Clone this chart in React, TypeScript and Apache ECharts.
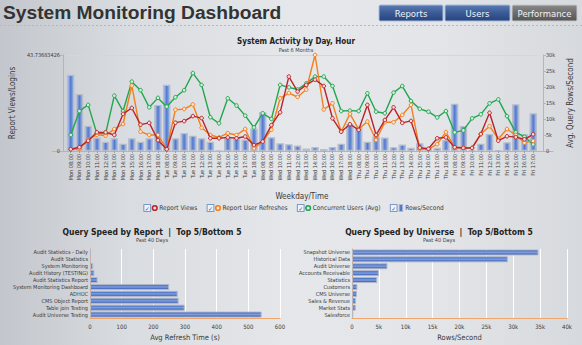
import React, { useEffect, useRef } from 'react';
import * as echarts from 'echarts';

// Hourly buckets, Monday 08:00 through Friday 17:00
const activityHours = [
  'Mon 08:00', 'Mon 09:00', 'Mon 10:00', 'Mon 11:00', 'Mon 12:00', 'Mon 13:00', 'Mon 14:00', 'Mon 15:00', 'Mon 16:00', 'Mon 17:00', 'Mon 18:00',
  'Tue 08:00', 'Tue 09:00', 'Tue 10:00', 'Tue 11:00', 'Tue 12:00', 'Tue 13:00', 'Tue 14:00', 'Tue 15:00', 'Tue 16:00', 'Tue 17:00', 'Tue 18:00',
  'Wed 08:00', 'Wed 09:00', 'Wed 10:00', 'Wed 11:00', 'Wed 12:00', 'Wed 13:00', 'Wed 14:00', 'Wed 15:00', 'Wed 16:00', 'Wed 17:00', 'Wed 18:00',
  'Thu 08:00', 'Thu 09:00', 'Thu 10:00', 'Thu 11:00', 'Thu 12:00', 'Thu 13:00', 'Thu 14:00', 'Thu 15:00', 'Thu 16:00', 'Thu 17:00', 'Thu 18:00',
  'Fri 08:00', 'Fri 09:00', 'Fri 10:00', 'Fri 11:00', 'Fri 12:00', 'Fri 13:00', 'Fri 14:00', 'Fri 15:00', 'Fri 16:00', 'Fri 17:00',
];

const reportViews = [
  0.8, 1.7, 4.7, 8.5, 8.5, 7.3, 16.9, 19.6, 12.0, 12.8, 4.9,
  0.8, 12.9, 13.6, 15.9, 15.0, 5.8, 5.8, 6.2, 5.8, 6.6, 2.7,
  4.3, 11.8, 17.6, 33.9, 27.1, 30.1, 32.5, 29.6, 14.9, 8.8, 12.2,
  9.6, 21.0, 7.3, 14.1, 19.9, 12.8, 13.7, 1.5, 1.0, 5.8, 6.2,
  1.7, 1.4, 1.4, 7.7, 17.4, 4.7, 6.7, 6.3, 5.3, 7.6,
];

const userRefreshes = [
  0.8, 1.0, 5.2, 7.4, 7.0, 10.0, 12.3, 29.8, 8.8, 7.3, 7.3,
  0.8, 18.8, 19.1, 21.2, 10.6, 7.3, 6.2, 8.1, 7.3, 10.0, 1.2,
  4.3, 9.7, 24.0, 26.4, 24.6, 28.0, 43.73683426, 18.9, 21.7, 8.8, 16.9,
  10.0, 13.4, 5.0, 13.1, 13.1, 16.4, 21.0, 0.9, 0.8, 3.1, 8.6,
  1.5, 1.6, 1.4, 7.7, 11.3, 5.5, 10.0, 7.3, 3.8, 4.6,
];

const concurrentUsers = [
  7.3, 18.2, 21.0, 7.9, 7.9, 25.2, 18.2, 31.6, 27.7, 19.9, 24.2,
  20.2, 24.5, 27.7, 35.5, 30.1, 15.4, 12.6, 24.0, 20.7, 16.1, 10.7,
  17.2, 14.6, 30.1, 29.0, 28.0, 30.8, 33.9, 33.9, 29.6, 18.2, 18.4,
  18.2, 26.3, 17.9, 17.2, 26.6, 29.6, 22.8, 19.2, 17.9, 15.3, 18.2,
  8.5, 9.4, 14.9, 16.7, 21.7, 23.5, 15.9, 8.5, 6.5, 3.0,
];

const rowsPerSecond = [
  23800, 17800, 7900, 4200, 2900, 4000, 2300, 4000, 2900, 4000, 14400,
  20700, 4000, 5600, 4800, 4000, 2900, 100, 4300, 4000, 3600, 7000,
  12100, 4300, 2400, 2100, 1700, 800, 1250, 600, 1250, 2300, 8400,
  7600, 2900, 4500, 4200, 1200, 2000, 1000, 2400, 1000, 1000, 3400,
  14800, 7800, 300, 2300, 5300, 300, 2700, 14600, 5200, 11800,
];

const activityMax = 43.73683426;

const reportNames = [
  'Audit Statistics - Daily', 'Audit Statistics', 'System Monitoring', 'Audit History (TESTING)',
  'Audit Statistics Report', 'System Monitoring Dashboard', 'ADHOC', 'CMS Object Report',
  'Table join Testing', 'Audit Universe Testing',
];
const reportRefreshTimes = [3, 3, 10, 14, 24, 250, 277, 280, 299, 542];

const universeNames = [
  'Snapshot Universe', 'Historical Data', 'Audit Universe', 'Accounts Receivable', 'Statistics',
  'Customers', 'CMS Universe', 'Sales & Revenue', 'Market Stats', 'Salesforce',
];
const universeRowsPerSecond = [34700, 29000, 6600, 5000, 4700, 1000, 930, 750, 700, 250];

const navButtons = ['Reports', 'Users', 'Performance'];
const legendNames = ['Report Views', 'Report User Refreshes', 'Concurrent Users (Avg)', 'Rows/Second'];

const AXIS_ORANGE = '#f0a56c';
const TEXT = '#3a3a3a';
const FONT = '"DejaVu Sans Condensed", "DejaVu Sans", sans-serif';

const kFormat = (v: number) => (v === 0 ? '0' : `${Math.round(v / 1000)}k`);

// Cylinder-like shading for the hourly columns
const columnFill = new echarts.graphic.LinearGradient(0, 0, 1, 0, [
  { offset: 0, color: '#b4c6ee' },
  { offset: 0.5, color: '#5278cc' },
  { offset: 1, color: '#a6bcea' },
]);
// Shading for the horizontal ranking bars
const hbarFill = new echarts.graphic.LinearGradient(0, 0, 0, 1, [
  { offset: 0, color: '#3660bb' },
  { offset: 0.5, color: '#7f9fe0' },
  { offset: 1, color: '#2a52ab' },
]);

function lineSeries(name: string, data: number[], color: string, fill: string, z: number) {
  return {
    name,
    type: 'line',
    xAxisIndex: 0,
    yAxisIndex: 0,
    data,
    color,
    symbol: 'circle',
    symbolSize: 3.6,
    lineStyle: { color, width: 1.4 },
    itemStyle: { color: fill, borderColor: color, borderWidth: 1 },
    z,
  };
}

function buildOption() {
  const markerKey: Record<string, string> = {
    'Report Views': 'mRed',
    'Report User Refreshes': 'mOrange',
    'Concurrent Users (Avg)': 'mGreen',
    'Rows/Second': 'mBar',
  };
  const ringStyle = (border: string, bg: string) => ({
    width: 3, height: 3, borderRadius: 3, backgroundColor: bg, borderColor: border, borderWidth: 1.6,
  });

  const buttonGraphics = navButtons.map((label, i) => {
    const x = [379, 445, 512][i];
    const w = [64, 65, 65][i];
    const active = label === 'Performance';
    return {
      type: 'group',
      x,
      y: 5,
      children: [
        {
          type: 'rect',
          shape: { x: 0, y: 0, width: w, height: 16, r: 1.5 },
          style: {
            fill: new echarts.graphic.LinearGradient(0, 0, 0, 1, active
              ? [{ offset: 0, color: '#8a8a8a' }, { offset: 0.5, color: '#6c6c6c' }, { offset: 1, color: '#555555' }]
              : [{ offset: 0, color: '#5a7cb4' }, { offset: 0.5, color: '#3a5a96' }, { offset: 1, color: '#26457f' }]),
            stroke: active ? '#c8c8c8' : '#a9bbd8',
            lineWidth: 1,
          },
        },
        {
          type: 'text',
          x: w / 2,
          y: 8.5,
          style: {
            text: label, fill: '#f2f4f8', fontSize: 8.5, fontFamily: '"DejaVu Sans", sans-serif',
            align: 'center', verticalAlign: 'middle',
          },
        },
      ],
    };
  });

  return {
    animation: false,
    textStyle: { fontFamily: FONT },
    title: [
      {
        text: 'System Activity by Day, Hour', subtext: 'Past 6 Months',
        left: 291, top: 32, textAlign: 'center', itemGap: 2,
        textStyle: { fontSize: 8, fontWeight: 'bold', color: '#222', fontFamily: FONT },
        subtextStyle: { fontSize: 5.5, color: '#444', fontFamily: FONT },
      },
      {
        text: 'Query Speed by Report  |  Top 5/Bottom 5', subtext: 'Past 40 Days',
        left: 147, top: 222, textAlign: 'center', itemGap: 1,
        textStyle: { fontSize: 8.5, fontWeight: 'bold', color: '#222', fontFamily: FONT },
        subtextStyle: { fontSize: 5.5, color: '#444', fontFamily: FONT },
      },
      {
        text: 'Query Speed by Universe  |  Top 5/Bottom 5', subtext: 'Past 40 Days',
        left: 434, top: 222, textAlign: 'center', itemGap: 1,
        textStyle: { fontSize: 8.5, fontWeight: 'bold', color: '#222', fontFamily: FONT },
        subtextStyle: { fontSize: 5.5, color: '#444', fontFamily: FONT },
      },
    ],
    graphic: [
      {
        type: 'text', x: 3, y: 3,
        style: {
          text: 'System Monitoring Dashboard', fill: '#333',
          fontSize: 19.2, fontWeight: 'bold', fontFamily: '"Liberation Sans", Arial, sans-serif',
          align: 'left', verticalAlign: 'top',
        },
      },
      {
        type: 'line',
        shape: { x1: 0, y1: 25.5, x2: 582, y2: 25.5 },
        style: { stroke: '#b5b9bf', lineWidth: 1, lineDash: [2, 2] },
      },
      ...buttonGraphics,
    ],
    legend: {
      data: legendNames,
      left: 'center',
      top: 199,
      itemWidth: 0.1,
      itemHeight: 0.1,
      itemGap: 4,
      icon: 'rect',
      itemStyle: { opacity: 0 },
      lineStyle: { opacity: 0 },
      selectedMode: false,
      formatter: (name: string) => `{cb|✓}{s|}{${markerKey[name]}|}{s|}{t|${name}}`,
      textStyle: {
        fontFamily: FONT, fontSize: 6.5, color: TEXT,
        rich: {
          cb: {
            width: 6, height: 6, lineHeight: 7, align: 'center', fontSize: 6, color: '#1f4aa0',
            backgroundColor: '#eef2fb', borderColor: '#5c7fb8', borderWidth: 0.8,
          },
          s: { width: 3 },
          mRed: ringStyle('#b8252b', '#f6dcd8'),
          mOrange: ringStyle('#f0801f', '#fde7d3'),
          mGreen: ringStyle('#23a650', '#d6f0de'),
          mBar: { width: 2.5, height: 6, backgroundColor: '#5479c8', borderColor: '#b4bccc', borderWidth: 1 },
          t: { fontSize: 6.5, color: TEXT, fontFamily: FONT },
        },
      },
    },
    grid: [
      { left: 55.4, right: 34.4, top: 55, bottom: 194 },
      { left: 52, right: 29, top: 55, bottom: 194 },
      { left: 90, right: 302, top: 249, bottom: 27 },
      { left: 352, right: 15, top: 249, bottom: 27 },
    ],
    xAxis: [
      {
        type: 'category', gridIndex: 0, data: activityHours, boundaryGap: true,
        axisLine: { show: false },
        axisTick: { show: true, alignWithLabel: true, length: 2, lineStyle: { color: '#9aa0a8' } },
        axisLabel: { interval: 0, rotate: 90, fontSize: 5.5, color: TEXT, margin: 3 },
        name: 'Weekday/Time', nameLocation: 'middle', nameGap: 41,
        nameTextStyle: { fontSize: 8, color: TEXT },
      },
      {
        type: 'value', gridIndex: 1, min: 0, max: 1,
        axisLine: { show: true, lineStyle: { color: AXIS_ORANGE, width: 1 } },
        axisTick: { show: false }, axisLabel: { show: false }, splitLine: { show: false },
      },
      {
        type: 'value', gridIndex: 2, min: 0, max: 600, interval: 100,
        axisLine: { show: true, lineStyle: { color: AXIS_ORANGE } },
        axisTick: { show: false },
        axisLabel: { fontSize: 6, color: TEXT, margin: 5 },
        splitLine: { show: true, lineStyle: { color: '#ffffff', width: 1 } },
        name: 'Avg Refresh Time (s)', nameLocation: 'middle', nameGap: 15,
        nameTextStyle: { fontSize: 7.5, color: TEXT },
      },
      {
        type: 'value', gridIndex: 3, min: 0, max: 40000, interval: 5000,
        axisLine: { show: true, lineStyle: { color: AXIS_ORANGE } },
        axisTick: { show: false },
        axisLabel: { fontSize: 6, color: TEXT, margin: 5, formatter: kFormat },
        splitLine: { show: true, lineStyle: { color: '#ffffff', width: 1 } },
        name: 'Rows/Second', nameLocation: 'middle', nameGap: 15,
        nameTextStyle: { fontSize: 7.5, color: TEXT },
      },
    ],
    yAxis: [
      {
        type: 'value', gridIndex: 0, position: 'left', offset: 3.4,
        min: 0, max: activityMax, interval: activityMax,
        axisLine: { show: true, lineStyle: { color: AXIS_ORANGE } },
        axisTick: { show: true, length: 3, lineStyle: { color: AXIS_ORANGE } },
        axisLabel: {
          fontSize: 5.5, color: TEXT, margin: 3,
          formatter: (v: number) => (v === 0 ? '0' : String(activityMax)),
        },
        splitLine: { show: true, lineStyle: { color: '#d3d6db' } },
        name: 'Report Views/Logins', nameLocation: 'middle', nameGap: 37,
        nameTextStyle: { fontSize: 8, color: TEXT },
      },
      {
        type: 'value', gridIndex: 0, position: 'right', offset: 5.4,
        min: 0, max: 30000, interval: 5000,
        axisLine: { show: true, lineStyle: { color: AXIS_ORANGE } },
        axisTick: { show: true, length: 3, lineStyle: { color: AXIS_ORANGE } },
        axisLabel: { fontSize: 5.5, color: TEXT, margin: 3, formatter: kFormat },
        splitLine: { show: false },
        name: 'Avg. Query Rows/Second', nameLocation: 'middle', nameGap: 19, nameRotate: 90,
        nameTextStyle: { fontSize: 8, color: TEXT },
      },
      { type: 'value', gridIndex: 1, show: false, min: 0, max: 1 },
      {
        type: 'category', gridIndex: 2, data: reportNames, inverse: true,
        axisLine: { show: true, lineStyle: { color: AXIS_ORANGE } },
        axisTick: { show: false },
        axisLabel: { fontSize: 5.5, color: TEXT, margin: 2, interval: 0 },
      },
      {
        type: 'category', gridIndex: 3, data: universeNames, inverse: true,
        axisLine: { show: true, lineStyle: { color: AXIS_ORANGE } },
        axisTick: { show: false },
        axisLabel: { fontSize: 5.5, color: TEXT, margin: 2, interval: 0 },
      },
    ],
    series: [
      {
        name: 'Rows/Second', type: 'bar', xAxisIndex: 0, yAxisIndex: 1, data: rowsPerSecond,
        barWidth: 7.5, color: '#4a70c2',
        itemStyle: { color: columnFill, borderColor: '#b8bdcb', borderWidth: 1.2 },
        z: 1,
      },
      lineSeries('Concurrent Users (Avg)', concurrentUsers, '#22a64e', '#d4efdc', 2),
      lineSeries('Report User Refreshes', userRefreshes, '#f2801c', '#fde6d0', 3),
      lineSeries('Report Views', reportViews, '#b8242a', '#f5d9d6', 4),
      {
        type: 'bar', xAxisIndex: 2, yAxisIndex: 3, data: reportRefreshTimes, barWidth: 6,
        itemStyle: { color: hbarFill, borderColor: '#b3b9c8', borderWidth: 1 },
      },
      {
        type: 'bar', xAxisIndex: 3, yAxisIndex: 4, data: universeRowsPerSecond, barWidth: 6,
        itemStyle: { color: hbarFill, borderColor: '#b3b9c8', borderWidth: 1 },
      },
    ],
  };
}

export default function App() {
  const ref = useRef<HTMLDivElement>(null);
  useEffect(() => {
    if (!ref.current) return;
    const chart = echarts.init(ref.current, undefined, { renderer: 'svg' });
    chart.setOption(buildOption() as any);
    return () => chart.dispose();
  }, []);
  return (
    <div
      ref={ref}
      style={{
        position: 'fixed', left: 0, top: 0, width: 582, height: 345,
        background: 'linear-gradient(90deg, #c3c7cd 0%, #d9dce0 22%, #e5e7ea 50%, #e3e5e8 75%, #d6d9dd 100%)',
      }}
    />
  );
}
